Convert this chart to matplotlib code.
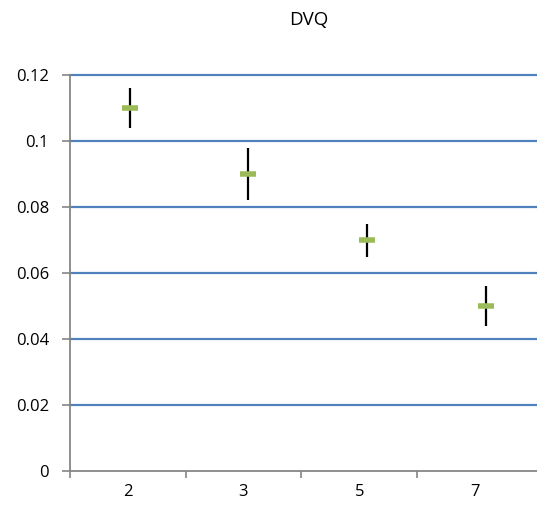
import matplotlib.pyplot as plt

# data
categories = ["2", "3", "5", "7"]
values = [0.11, 0.09, 0.07, 0.05]
err_up = [0.006, 0.008, 0.005, 0.006]
err_down = [0.006, 0.008, 0.005, 0.006]
y_ticks = [0, 0.02, 0.04, 0.06, 0.08, 0.1, 0.12]
y_labels = ["0", "0.02", "0.04", "0.06", "0.08", "0.1", "0.12"]

plt.rcParams['font.family'] = ['Open Sans', 'DejaVu Sans']

fig = plt.figure(figsize=(5.37, 5.08), dpi=100)
ax = fig.add_axes([0.130, 0.0728, 0.870, 0.7795])

n = len(categories)
ax.set_xlim(-0.5, 3.536)
ax.set_ylim(0, 0.12)

# category axis: ticks at boundaries, labels centred
ax.set_xticks([i - 0.5 for i in range(n)])
ax.set_xticklabels([])
ax.set_xticks(list(range(n)), minor=True)
ax.set_xticklabels(categories, minor=True)
ax.tick_params(axis='x', which='major', direction='out', length=5, width=1.2, color='#868686')
ax.tick_params(axis='x', which='minor', length=0, pad=9, labelsize=12)

ax.set_yticks(y_ticks)
ax.set_yticklabels(y_labels)
ax.tick_params(axis='y', direction='out', length=6, width=1.2, color='#868686', labelsize=12, pad=9)

for y in y_ticks[1:]:
    ax.axhline(y, color='#4F81BD', lw=1.6, zorder=1, clip_on=False)

for s in ['top', 'right']:
    ax.spines[s].set_visible(False)
for s in ['left', 'bottom']:
    ax.spines[s].set_color('#868686')
    ax.spines[s].set_linewidth(1.3)

# markers sit on a secondary x scale (as in the source chart)
ax2 = ax.twiny()
ax2.set_xlim(-0.505, 3.43)
ax2.set_ylim(0, 0.12)
ax2.axis('off')
xs = list(range(n))
ax2.errorbar(xs, values, yerr=[err_down, err_up], fmt='none', ecolor='black',
             elinewidth=1.6, capsize=0, zorder=3)
ax2.plot(xs, values, linestyle='none', marker='_', markersize=12,
         markeredgewidth=4, color='#9BBB59', zorder=4)

fig.text(0.575, 0.960, "DVQ", ha='center', va='center', fontsize=13.5)

fig.savefig("out.png", dpi=100)
